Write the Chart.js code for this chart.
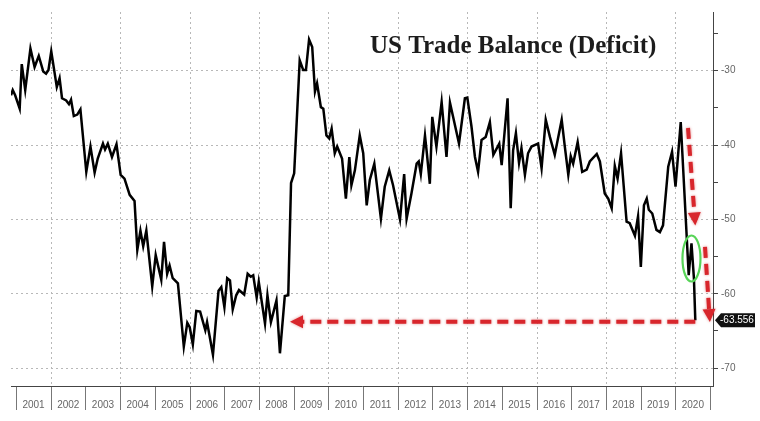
<!DOCTYPE html>
<html>
<head>
<meta charset="utf-8">
<title>US Trade Balance (Deficit)</title>
<script src="https://cdn.jsdelivr.net/npm/chart.js@4.4.0/dist/chart.umd.min.js"></script>
<style>
  html, body { margin: 0; padding: 0; background: #fff; }
  #myChart { display: block; }
</style>
</head>
<body>
<canvas id="myChart" width="760" height="421"></canvas>
<script>
// monthly-ish vertices (decimal year, $bn)
const dates = [2000.84, 2000.89, 2000.96, 2001.09, 2001.15, 2001.25, 2001.40, 2001.52, 2001.64, 2001.77,
    2001.85, 2001.92, 2002.00, 2002.16, 2002.24, 2002.31, 2002.43, 2002.51, 2002.57, 2002.65,
    2002.75, 2002.84, 2003.01, 2003.13, 2003.25, 2003.34, 2003.49, 2003.55, 2003.63, 2003.75,
    2003.88, 2004.00, 2004.11, 2004.26, 2004.40, 2004.48, 2004.57, 2004.65, 2004.74, 2004.91,
    2005.01, 2005.17, 2005.25, 2005.34, 2005.41, 2005.50, 2005.65, 2005.82, 2005.92, 2005.99,
    2006.08, 2006.18, 2006.29, 2006.44, 2006.49, 2006.66, 2006.82, 2006.90, 2006.99, 2007.07,
    2007.15, 2007.23, 2007.33, 2007.41, 2007.56, 2007.66, 2007.75, 2007.82, 2007.92, 2007.98,
    2008.16, 2008.23, 2008.33, 2008.49, 2008.59, 2008.73, 2008.83, 2008.91, 2009.00, 2009.16,
    2009.26, 2009.34, 2009.43, 2009.52, 2009.60, 2009.66, 2009.77, 2009.84, 2009.93, 2010.01,
    2010.08, 2010.17, 2010.24, 2010.38, 2010.49, 2010.59, 2010.65, 2010.75, 2010.89, 2010.99,
    2011.09, 2011.18, 2011.31, 2011.50, 2011.61, 2011.74, 2011.85, 2012.05, 2012.17, 2012.24,
    2012.38, 2012.53, 2012.59, 2012.65, 2012.77, 2012.82, 2012.91, 2012.98, 2013.10, 2013.25,
    2013.39, 2013.49, 2013.58, 2013.75, 2013.92, 2013.99, 2014.11, 2014.21, 2014.30, 2014.40,
    2014.52, 2014.64, 2014.74, 2014.91, 2014.98, 2015.15, 2015.24, 2015.31, 2015.39, 2015.48,
    2015.55, 2015.65, 2015.74, 2015.84, 2016.03, 2016.13, 2016.25, 2016.37, 2016.51, 2016.71,
    2016.80, 2016.90, 2016.97, 2017.04, 2017.17, 2017.30, 2017.43, 2017.52, 2017.72, 2017.81,
    2017.95, 2018.05, 2018.15, 2018.24, 2018.32, 2018.42, 2018.58, 2018.67, 2018.82, 2018.91,
    2018.99, 2019.08, 2019.16, 2019.22, 2019.32, 2019.44, 2019.54, 2019.63, 2019.78, 2019.89,
    2019.99, 2020.14, 2020.37, 2020.45, 2020.52, 2020.56]

const balance = [-33.3, -32.6, -33.3, -35.1, -29.1, -32.6, -27.0, -29.5, -28.0, -30.1,
    -30.4, -29.9, -27.4, -32.2, -31.0, -33.7, -34.0, -34.5, -33.9, -36.1,
    -35.9, -35.2, -43.6, -40.2, -43.7, -41.8, -39.8, -40.6, -39.8, -41.6,
    -39.9, -44.0, -44.5, -46.7, -47.5, -54.1, -51.5, -53.6, -51.5, -59.0,
    -54.8, -58.1, -53.0, -57.3, -56.2, -57.9, -58.6, -67.1, -63.9, -64.5,
    -66.8, -62.3, -62.4, -64.9, -63.8, -68.2, -59.6, -59.1, -61.8, -57.9,
    -58.2, -62.1, -60.2, -59.5, -60.1, -57.3, -57.7, -57.5, -60.5, -58.4,
    -64.0, -60.2, -63.8, -60.9, -68.0, -60.3, -60.2, -45.1, -43.8, -28.6,
    -29.9, -29.9, -25.8, -26.8, -32.8, -31.7, -34.9, -35.1, -38.7, -39.1,
    -37.8, -41.1, -40.2, -41.8, -47.2, -41.6, -45.4, -43.4, -38.7, -41.1,
    -48.1, -44.7, -42.5, -49.9, -45.6, -43.4, -45.4, -50.0, -43.9, -49.9,
    -46.5, -42.5, -42.2, -43.9, -38.7, -40.9, -45.2, -36.2, -40.2, -34.2,
    -41.6, -34.3, -36.2, -39.8, -33.7, -33.6, -37.5, -41.6, -43.6, -39.3,
    -38.9, -36.9, -41.3, -39.8, -42.7, -33.7, -48.5, -40.7, -38.4, -42.4,
    -40.4, -44.0, -41.1, -40.2, -39.8, -43.1, -36.6, -38.9, -41.3, -36.6,
    -40.2, -44.0, -41.5, -42.5, -39.6, -43.6, -43.3, -42.2, -41.2, -42.2,
    -46.5, -47.2, -48.5, -42.8, -44.5, -41.1, -50.3, -50.5, -52.2, -49.6,
    -56.4, -48.1, -47.2, -48.7, -49.2, -51.4, -51.7, -50.8, -42.9, -40.9,
    -45.6, -36.9, -57.5, -53.2, -57.9, -63.556]

const years = ['2001', '2002', '2003', '2004', '2005', '2006', '2007', '2008', '2009', '2010',
    '2011', '2012', '2013', '2014', '2015', '2016', '2017', '2018', '2019', '2020']
const yTicks = [-30, -40, -50, -60, -70]

const title = 'US Trade Balance (Deficit)'
const lastLabel = '-63.556'

// annotation anchors, in data units
const lastPoint = [dates[dates.length - 1], balance[balance.length - 1]]
const arrowBack = [2008.88, -63.75]
const arrowDown1 = [[2020.35, -37.7], [2020.56, -50.8]]
const arrowDown2 = [[2020.84, -53.7], [2020.98, -63.8]]
const circled = [2020.45, -55.25]

const RED = '#d8262c'

const dashedArrow = (ctx, x1, y1, x2, y2) => {
    const ang = Math.atan2(y2 - y1, x2 - x1)
    const head = 13
    const bx = x2 - Math.cos(ang) * head
    const by = y2 - Math.sin(ang) * head
    ctx.save()
    ctx.strokeStyle = RED
    ctx.fillStyle = RED
    ctx.shadowColor = 'rgba(190,0,0,0.45)'
    ctx.shadowBlur = 3
    ctx.lineWidth = 4
    ctx.setLineDash([11, 6])
    ctx.beginPath()
    ctx.moveTo(x1, y1)
    ctx.lineTo(bx, by)
    ctx.stroke()
    ctx.setLineDash([])
    ctx.beginPath()
    ctx.moveTo(x2, y2)
    ctx.lineTo(bx + Math.sin(ang) * 6.5, by - Math.cos(ang) * 6.5)
    ctx.lineTo(bx - Math.sin(ang) * 6.5, by + Math.cos(ang) * 6.5)
    ctx.closePath()
    ctx.fill()
    ctx.restore()
}

const annotations = {
    id: 'annotations',
    afterDatasetsDraw(chart) {
        const {ctx, scales: {x, y}} = chart

        dashedArrow(ctx, x.getPixelForValue(lastPoint[0]), y.getPixelForValue(arrowBack[1]),
            x.getPixelForValue(arrowBack[0]), y.getPixelForValue(arrowBack[1]))
        dashedArrow(ctx, x.getPixelForValue(arrowDown1[0][0]), y.getPixelForValue(arrowDown1[0][1]),
            x.getPixelForValue(arrowDown1[1][0]), y.getPixelForValue(arrowDown1[1][1]))
        dashedArrow(ctx, x.getPixelForValue(arrowDown2[0][0]), y.getPixelForValue(arrowDown2[0][1]),
            x.getPixelForValue(arrowDown2[1][0]), y.getPixelForValue(arrowDown2[1][1]))

        // green ring round the spring dip
        ctx.save()
        ctx.strokeStyle = '#58d458'
        ctx.lineWidth = 2.2
        ctx.beginPath()
        ctx.ellipse(x.getPixelForValue(circled[0]), y.getPixelForValue(circled[1]), 9, 23, 0, 0, Math.PI * 2)
        ctx.stroke()
        ctx.restore()
    },
    afterDraw(chart) {
        const {ctx, chartArea, scales: {y}} = chart

        ctx.save()
        ctx.font = 'bold 25px "Liberation Serif", "DejaVu Serif", serif'
        ctx.fillStyle = '#1c1c1c'
        ctx.textBaseline = 'alphabetic'
        ctx.fillText(title, 370, 53)
        ctx.restore()

        // last value tag on the right axis
        const ly = y.getPixelForValue(lastPoint[1])
        const lx = chartArea.right + 2
        ctx.save()
        ctx.fillStyle = '#111'
        ctx.beginPath()
        ctx.moveTo(lx, ly)
        ctx.lineTo(lx + 6, ly - 7)
        ctx.lineTo(lx + 40, ly - 7)
        ctx.lineTo(lx + 40, ly + 7)
        ctx.lineTo(lx + 6, ly + 7)
        ctx.closePath()
        ctx.fill()
        ctx.fillStyle = '#fff'
        ctx.font = '10px "Liberation Sans", Arial, sans-serif'
        ctx.textBaseline = 'middle'
        ctx.fillText(lastLabel, lx + 5, ly + 0.5)
        ctx.restore()
    }
}

const ctx = document.getElementById('myChart')

new Chart(ctx, {
    type: 'line',
    data: {
        datasets: [{
            label: 'US Trade Balance',
            data: dates.map((d, i) => ({x: d, y: balance[i]})),
            borderColor: '#000',
            borderWidth: 2.5,
            pointRadius: 0,
            tension: 0,
            fill: false
        }]
    },
    options: {
        responsive: false,
        animation: false,
        layout: {padding: {left: 11, top: 12, right: 0, bottom: 0}},
        plugins: {
            legend: {display: false},
            tooltip: {enabled: false}
        },
        scales: {
            x: {
                type: 'linear',
                position: 'bottom',
                min: 2000.84,
                max: 2021.07,
                afterFit: (scale) => { scale.height = 35 },
                border: {color: '#444', width: 1, dash: [2, 3]},
                grid: {
                    color: (c) => (c.tick && c.tick.value % 2 === 0) ? '#b8b8b8' : 'transparent',
                    lineWidth: 1,
                    tickColor: '#777',
                    tickLength: 24,
                    tickBorderDash: []
                },
                ticks: {
                    stepSize: 1,
                    includeBounds: false,
                    autoSkip: false,
                    maxRotation: 0,
                    padding: -11,
                    labelOffset: 17,
                    color: '#666',
                    font: {family: '"Liberation Sans", Arial, sans-serif', size: 10},
                    callback: (v) => years.includes(String(v)) ? String(v) : ''
                }
            },
            y: {
                type: 'linear',
                position: 'right',
                min: -72.4,
                max: -22.1,
                afterFit: (scale) => { scale.width = 47 },
                border: {color: '#444', width: 1, dash: [2, 3]},
                grid: {
                    color: (c) => (c.tick && yTicks.includes(c.tick.value)) ? '#b8b8b8' : 'transparent',
                    lineWidth: 1,
                    tickColor: '#444',
                    tickLength: 5,
                    tickBorderDash: []
                },
                ticks: {
                    stepSize: 5,
                    includeBounds: false,
                    padding: 3,
                    color: '#666',
                    font: {family: '"Liberation Sans", Arial, sans-serif', size: 10},
                    callback: (v) => yTicks.includes(v) ? String(v) : ''
                }
            }
        }
    },
    plugins: [annotations]
})
</script>
</body>
</html>
